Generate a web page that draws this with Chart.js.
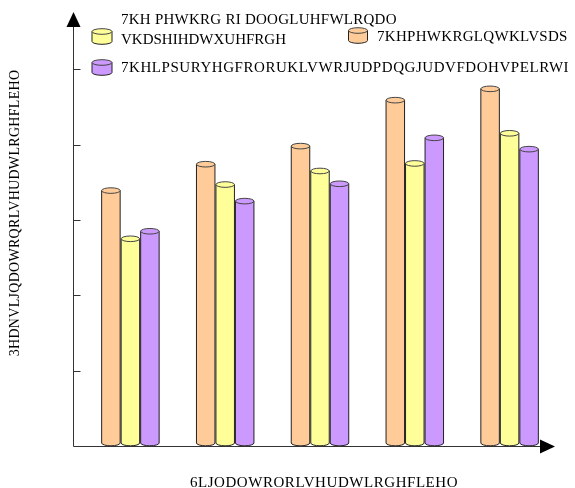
<!DOCTYPE html>
<html>
<head>
<meta charset="utf-8">
<script src="https://cdn.jsdelivr.net/npm/chart.js@4"></script>
<style>
  html, body { margin: 0; padding: 0; background: #fff; }
  #wrap { width: 575px; height: 488px; }
</style>
</head>
<body>
<div id="wrap"><canvas id="chartCylindres" width="575" height="488"></canvas></div>
<script>
const categories = ['1', '2', '3', '4', '5'];
const serieOrange = [3.39, 3.74, 3.98, 4.59, 4.74];
const serieJaune  = [2.75, 3.47, 3.65, 3.75, 4.15];
const serieViolet = [2.85, 3.25, 3.48, 4.09, 3.94];
const graduations = [1, 2, 3, 4, 5];

const titreX = '6LJODOWRORLVHUDWLRGHFLEHO';
const titreY = '3HDNVLJQDOWRQRLVHUDWLRGHFLEHO';
const labelJaune  = 'VKDSHIHDWXUHFRGH';
const labelJaune1 = '7KH PHWKRG RI DOOGLUHFWLRQDO';
const labelOrange = '7KHPHWKRGLQWKLVSDS';
const labelViolet = '7KHLPSURYHGFRORUKLVWRJUDPDQGJUDVFDOHVPELRWI';

const couleurs = { orange: '#FFCC99', jaune: '#FFFF99', violet: '#CC99FF' };
const famille = '"Liberation Serif", "Times New Roman", serif';

// cylindre : corps + ellipse du haut + ellipse du bas
const cylindre = (ctx, x, yHaut, yBas, w, couleur) => {
  const rx = w / 2, ry = 2.8;
  ctx.save();
  ctx.fillStyle = couleur;
  ctx.strokeStyle = '#222';
  ctx.lineWidth = 1;
  ctx.beginPath();
  ctx.moveTo(x - rx, yHaut);
  ctx.lineTo(x - rx, yBas);
  ctx.ellipse(x, yBas, rx, ry, 0, Math.PI, 0, true);
  ctx.lineTo(x + rx, yHaut);
  ctx.closePath();
  ctx.fill();
  ctx.stroke();
  ctx.beginPath();
  ctx.ellipse(x, yHaut, rx, ry, 0, 0, Math.PI * 2);
  ctx.fill();
  ctx.strokeStyle = '#444';
  ctx.stroke();
  ctx.restore();
};

const texte = (ctx, t, x, y, taille, espace) => {
  ctx.font = taille + 'px ' + famille;
  ctx.letterSpacing = espace + 'px';
  ctx.fillText(t, x, y);
  ctx.letterSpacing = '0px';
};

const pluginCylindres = {
  id: 'cylindres',
  afterDatasetsDraw(chart) {
    const ctx = chart.ctx;
    chart.data.datasets.forEach((ds, i) => {
      chart.getDatasetMeta(i).data.forEach(bar => {
        cylindre(ctx, bar.x, bar.y, bar.base - 3, bar.width - 1, ds.couleur);
      });
    });
  }
};

// axes avec flèches et graduations
const pluginAxes = {
  id: 'axes',
  afterDraw(chart) {
    const ctx = chart.ctx;
    const ys = chart.scales.y;
    const area = chart.chartArea;
    const x0 = area.left - 9.5;
    const y0 = ys.getPixelForValue(0);
    const xFin = area.right - 2;
    ctx.save();
    ctx.strokeStyle = '#333';
    ctx.lineWidth = 1;
    ctx.beginPath();
    ctx.moveTo(x0, y0 + 0.5);
    ctx.lineTo(xFin - 10, y0 + 0.5);
    ctx.moveTo(x0, y0 + 0.5);
    ctx.lineTo(x0, area.top + 10);
    graduations.forEach(v => {
      const py = Math.round(ys.getPixelForValue(v)) + 0.5;
      ctx.moveTo(x0, py);
      ctx.lineTo(x0 + 7, py);
    });
    ctx.stroke();
    ctx.fillStyle = '#000';
    ctx.beginPath();
    ctx.moveTo(x0, area.top);
    ctx.lineTo(x0 - 7, area.top + 15);
    ctx.lineTo(x0 + 7, area.top + 15);
    ctx.closePath();
    ctx.fill();
    ctx.beginPath();
    ctx.moveTo(xFin, y0 + 0.5);
    ctx.lineTo(xFin - 15, y0 - 6.5);
    ctx.lineTo(xFin - 15, y0 + 7.5);
    ctx.closePath();
    ctx.fill();

    // titres des axes
    ctx.fillStyle = '#000';
    ctx.textAlign = 'center';
    ctx.textBaseline = 'middle';
    texte(ctx, titreX, 324, 483, 15, 0.55);
    ctx.save();
    ctx.translate(15, 213);
    ctx.rotate(-Math.PI / 2);
    texte(ctx, titreY, 0, 0, 14, 0.3);
    ctx.restore();

    // légende
    cylindre(ctx, 102, 31.5, 41.5, 20, couleurs.jaune);
    cylindre(ctx, 358, 30.5, 40.5, 19, couleurs.orange);
    cylindre(ctx, 102, 62.5, 72.5, 20, couleurs.violet);
    ctx.textAlign = 'left';
    texte(ctx, labelJaune1, 121, 20, 15, 0.25);
    texte(ctx, labelJaune, 121, 40.5, 15, 0);
    texte(ctx, labelOrange, 377, 37.5, 15, 0.3);
    texte(ctx, labelViolet, 121, 68, 15, 0.55);
    ctx.restore();
  }
};

new Chart(document.getElementById('chartCylindres'), {
  type: 'bar',
  data: {
    labels: categories,
    datasets: [
      { label: labelJaune1 + ' ' + labelJaune, data: serieOrange, couleur: couleurs.orange },
      { label: labelOrange, data: serieJaune, couleur: couleurs.jaune },
      { label: labelViolet, data: serieViolet, couleur: couleurs.violet }
    ].map(d => ({ ...d, backgroundColor: 'rgba(0,0,0,0)', borderWidth: 0, barPercentage: 1, categoryPercentage: 0.617 }))
  },
  options: {
    responsive: false,
    animation: false,
    layout: { padding: { left: 83, right: 18, top: 12, bottom: 42 } },
    scales: {
      x: { display: false },
      y: { display: false, min: 0, max: 5.76 }
    },
    plugins: { legend: { display: false }, tooltip: { enabled: false } }
  },
  plugins: [pluginCylindres, pluginAxes]
});
</script>
</body>
</html>
